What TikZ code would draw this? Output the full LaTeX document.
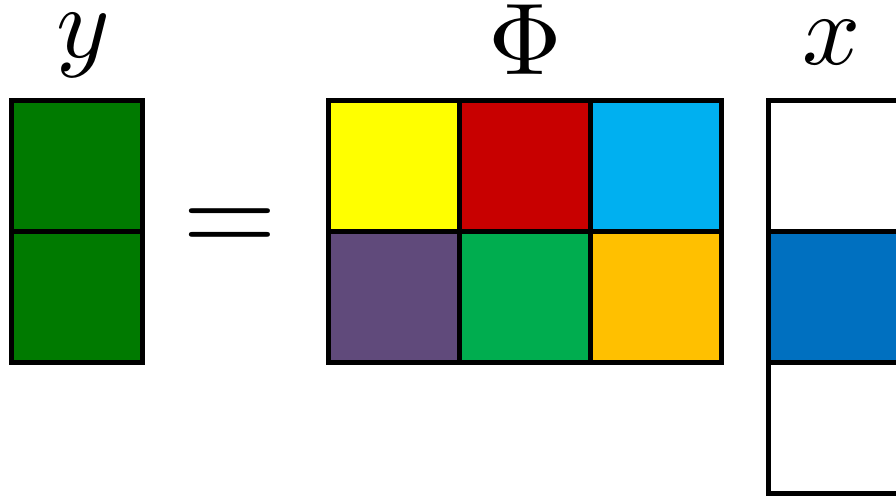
\documentclass[tikz,border=0pt]{standalone}
\usepackage{amsmath,amssymb}
\usepackage{xcolor}
\usepackage{tikz}
\usetikzlibrary{positioning}
\definecolor{ygreen}{HTML}{007A00}
\definecolor{phiyellow}{HTML}{FFFF00}
\definecolor{phired}{HTML}{C80000}
\definecolor{phicyan}{HTML}{00B0F0}
\definecolor{phipurple}{HTML}{604A7B}
\definecolor{phigreen}{HTML}{00AD4F}
\definecolor{phiorange}{HTML}{FFC000}
\definecolor{xblue}{HTML}{0070C0}

\begin{document}
\begin{tikzpicture}[
  x=0.5pt,y=-0.5pt,
  cell/.style={draw=black,line width=2.5pt,minimum width=65.5pt,minimum height=65.5pt,inner sep=0pt,outer sep=0pt},
  lbl/.style={scale=5.1,anchor=base,inner sep=0pt}
]
  \useasboundingbox (0,0) rectangle (896,497);
  % y
  \node[cell,fill=ygreen] (y1) at (76.5,166.5) {};
  \node[cell,fill=ygreen,below=0pt of y1] (y2) {};
  % Phi
  \node[cell,fill=phiyellow] (p11) at (393.5,166.5) {};
  \node[cell,fill=phired,right=0pt of p11] (p12) {};
  \node[cell,fill=phicyan,right=0pt of p12] (p13) {};
  \node[cell,fill=phipurple,below=0pt of p11] (p21) {};
  \node[cell,fill=phigreen,below=0pt of p12] (p22) {};
  \node[cell,fill=phiorange,below=0pt of p13] (p23) {};
  % x
  \node[cell,fill=white] (x1) at (833.5,166.5) {};
  \node[cell,fill=xblue,below=0pt of x1] (x2) {};
  \node[cell,fill=white,below=0pt of x2] (x3) {};
  % labels
  \node[lbl] (ylbl) at (83,58) {$y$};
  \node[lbl] (philbl) at (525,75) {$\Phi$};
  \node[lbl] (xlbl) at (832,65) {$x$};
  \node[scale=6.1,anchor=base,inner sep=0pt] (eq) at (230,254) {$=$};
\end{tikzpicture}
\end{document}
